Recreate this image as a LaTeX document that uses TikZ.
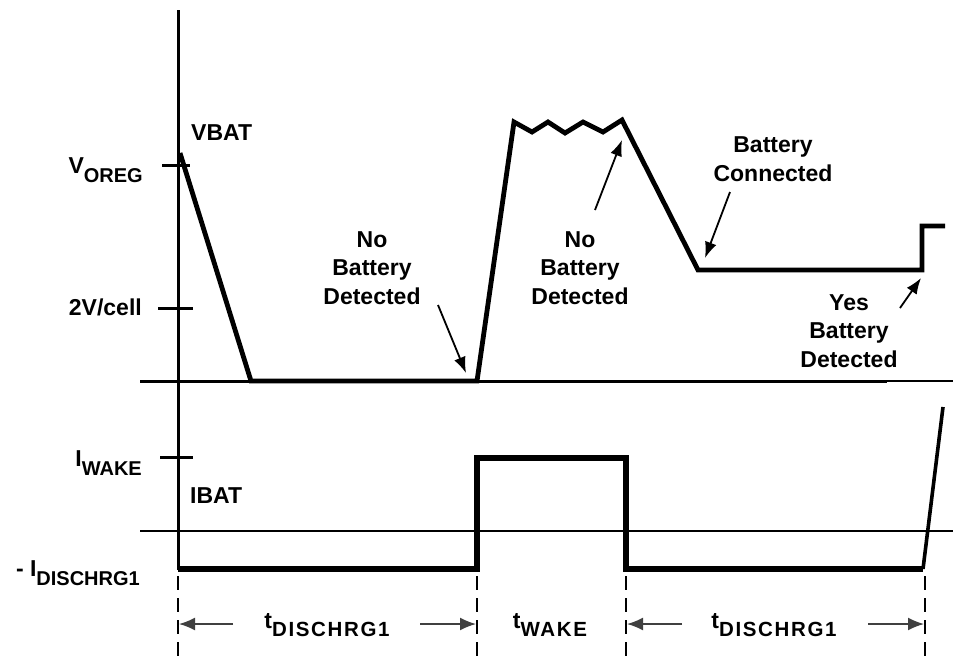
\documentclass[tikz,border=0pt]{standalone}
\usepackage{fontspec}
\setmainfont{Liberation Sans}
\newfontfamily\tsubfont[LetterSpace=8]{Liberation Sans}
\usetikzlibrary{arrows.meta}
\newcommand{\lo}[1]{\raisebox{-9pt}{\fontsize{20}{20}\selectfont #1}}
\newcommand{\tlo}[1]{\raisebox{-8pt}{\tsubfont\bfseries\fontsize{20.5}{20}\selectfont #1}}

\begin{document}
\begin{tikzpicture}[x=1pt, y=-1pt,
        sig/.style={line width=4.8pt},
        ax/.style={line width=3pt},
        thinax/.style={line width=1.6pt},
        note/.style={line width=1.8pt, -{Latex[length=16pt, width=12pt]}},
        dim/.style={line width=1.6pt, black!75, -{Latex[length=16pt, width=13pt]}},
        guide/.style={line width=1.8pt, dash pattern=on 14pt off 8pt},
        lbl/.style={font=\fontsize{23}{28.5}\selectfont\bfseries, align=center, inner sep=0pt}]
    \useasboundingbox (0,0) rectangle (953,657);

    % Axes
    \coordinate (top) at (178,10);
    \coordinate (org) at (178,570);
    \coordinate (vl) at (140,381);
    \coordinate (vm) at (887,381);
    \coordinate (vr) at (953,381);
    \coordinate (il) at (140,531);
    \coordinate (im) at (851,531);
    \coordinate (ir) at (953,531);
    \draw[ax] (top) -- (org);
    \draw[ax] (vl) -- (vm);
    \draw[thinax] (vm) -- (vr);
    \draw[ax, line width=2.4pt] (il) -- (im);
    \draw[thinax] (im) -- (ir);

    % Ticks
    \coordinate (t1a) at (162,165);
    \coordinate (t1b) at (190,165);
    \coordinate (t2a) at (158,308);
    \coordinate (t2b) at (193,308);
    \coordinate (t3a) at (160,457);
    \coordinate (t3b) at (193,457);
    \draw[ax] (t1a) -- (t1b);
    \draw[ax] (t2a) -- (t2b);
    \draw[ax] (t3a) -- (t3b);

    % Axis labels
    \node[lbl, anchor=base west] (vbat) at (191,140) {VBAT};
    \node[lbl, anchor=base east] (voreg) at (143,173) {V\lo{OREG}};
    \node[lbl, anchor=base east] (vcell) at (142,315) {2V/cell};
    \node[lbl, anchor=base east] (iwake) at (142,466) {I\lo{WAKE}};
    \node[lbl, anchor=base west] (ibat) at (190,503) {IBAT};
    \node[lbl, anchor=base east] (idis) at (140,576) {- I\lo{DISCHRG1}};

    % VBAT waveform
    \coordinate (v0) at (180,153);
    \coordinate (v1) at (251,381);
    \coordinate (v2) at (477,381);
    \coordinate (v3) at (514,122);
    \coordinate (z1) at (532,132);
    \coordinate (z2) at (548,122);
    \coordinate (z3) at (565,133);
    \coordinate (z4) at (583,122);
    \coordinate (z5) at (603,132);
    \coordinate (v4) at (622,120);
    \coordinate (v5) at (698,270);
    \coordinate (v6) at (922,270);
    \coordinate (v7) at (922,226);
    \coordinate (v8) at (945,226);
    \draw[sig] (v0) -- (v1) -- (v2) -- (v3) -- (z1) -- (z2) -- (z3) -- (z4) -- (z5) -- (v4)
        -- (v5) -- (v6) -- (v7) -- (v8);

    % IBAT waveform
    \coordinate (i0) at (178,569);
    \coordinate (i1) at (477,569);
    \coordinate (i2) at (477,458);
    \coordinate (i3) at (626,458);
    \coordinate (i4) at (626,569);
    \coordinate (i5) at (923,569);
    \coordinate (i6) at (943,407);
    \draw[sig, line width=5.5pt] (i0) -- (i1) -- (i2) -- (i3) -- (i4) -- (i5);
    \draw[sig, line width=3.6pt] (i5) -- (i6);

    % Notes
    \node[lbl] (nb1) at (372,268) {No\\Battery\\Detected};
    \node[lbl] (nb2) at (580,268) {No\\Battery\\Detected};
    \node[lbl] (bc) at (773,159) {Battery\\Connected};
    \node[lbl] (yb) at (849,331) {Yes\\Battery\\Detected};
    \coordinate (a1) at (438,305);
    \coordinate (b1) at (466,373);
    \coordinate (a2) at (595,210);
    \coordinate (b2) at (622,140);
    \coordinate (a3) at (730,192);
    \coordinate (b3) at (705,258);
    \coordinate (a4) at (900,308);
    \coordinate (b4) at (921,278);
    \draw[note] (a1) -- (b1);
    \draw[note] (a2) -- (b2);
    \draw[note] (a3) -- (b3);
    \draw[note] (a4) -- (b4);

    % Time marks
    \coordinate (g1) at (178,576);
    \coordinate (g1e) at (178,657);
    \coordinate (g2) at (477,576);
    \coordinate (g2e) at (477,657);
    \coordinate (g3) at (626,576);
    \coordinate (g3e) at (626,657);
    \coordinate (g4) at (925,576);
    \coordinate (g4e) at (925,657);
    \draw[guide] (g1) -- (g1e);
    \draw[guide] (g2) -- (g2e);
    \draw[guide] (g3) -- (g3e);
    \draw[guide] (g4) -- (g4e);

    \node[lbl, anchor=base] (td1) at (327,628) {t\tlo{DISCHRG1}};
    \node[lbl, anchor=base] (tw) at (550,628) {t\tlo{WAKE}};
    \node[lbl, anchor=base] (td2) at (774,628) {t\tlo{DISCHRG1}};
    \coordinate (d1a) at (233,624);
    \coordinate (d1b) at (179,624);
    \coordinate (d2a) at (420,624);
    \coordinate (d2b) at (476,624);
    \coordinate (d3a) at (682,624);
    \coordinate (d3b) at (627,624);
    \coordinate (d4a) at (868,624);
    \coordinate (d4b) at (924,624);
    \draw[dim] (d1a) -- (d1b);
    \draw[dim] (d2a) -- (d2b);
    \draw[dim] (d3a) -- (d3b);
    \draw[dim] (d4a) -- (d4b);
\end{tikzpicture}
\end{document}
